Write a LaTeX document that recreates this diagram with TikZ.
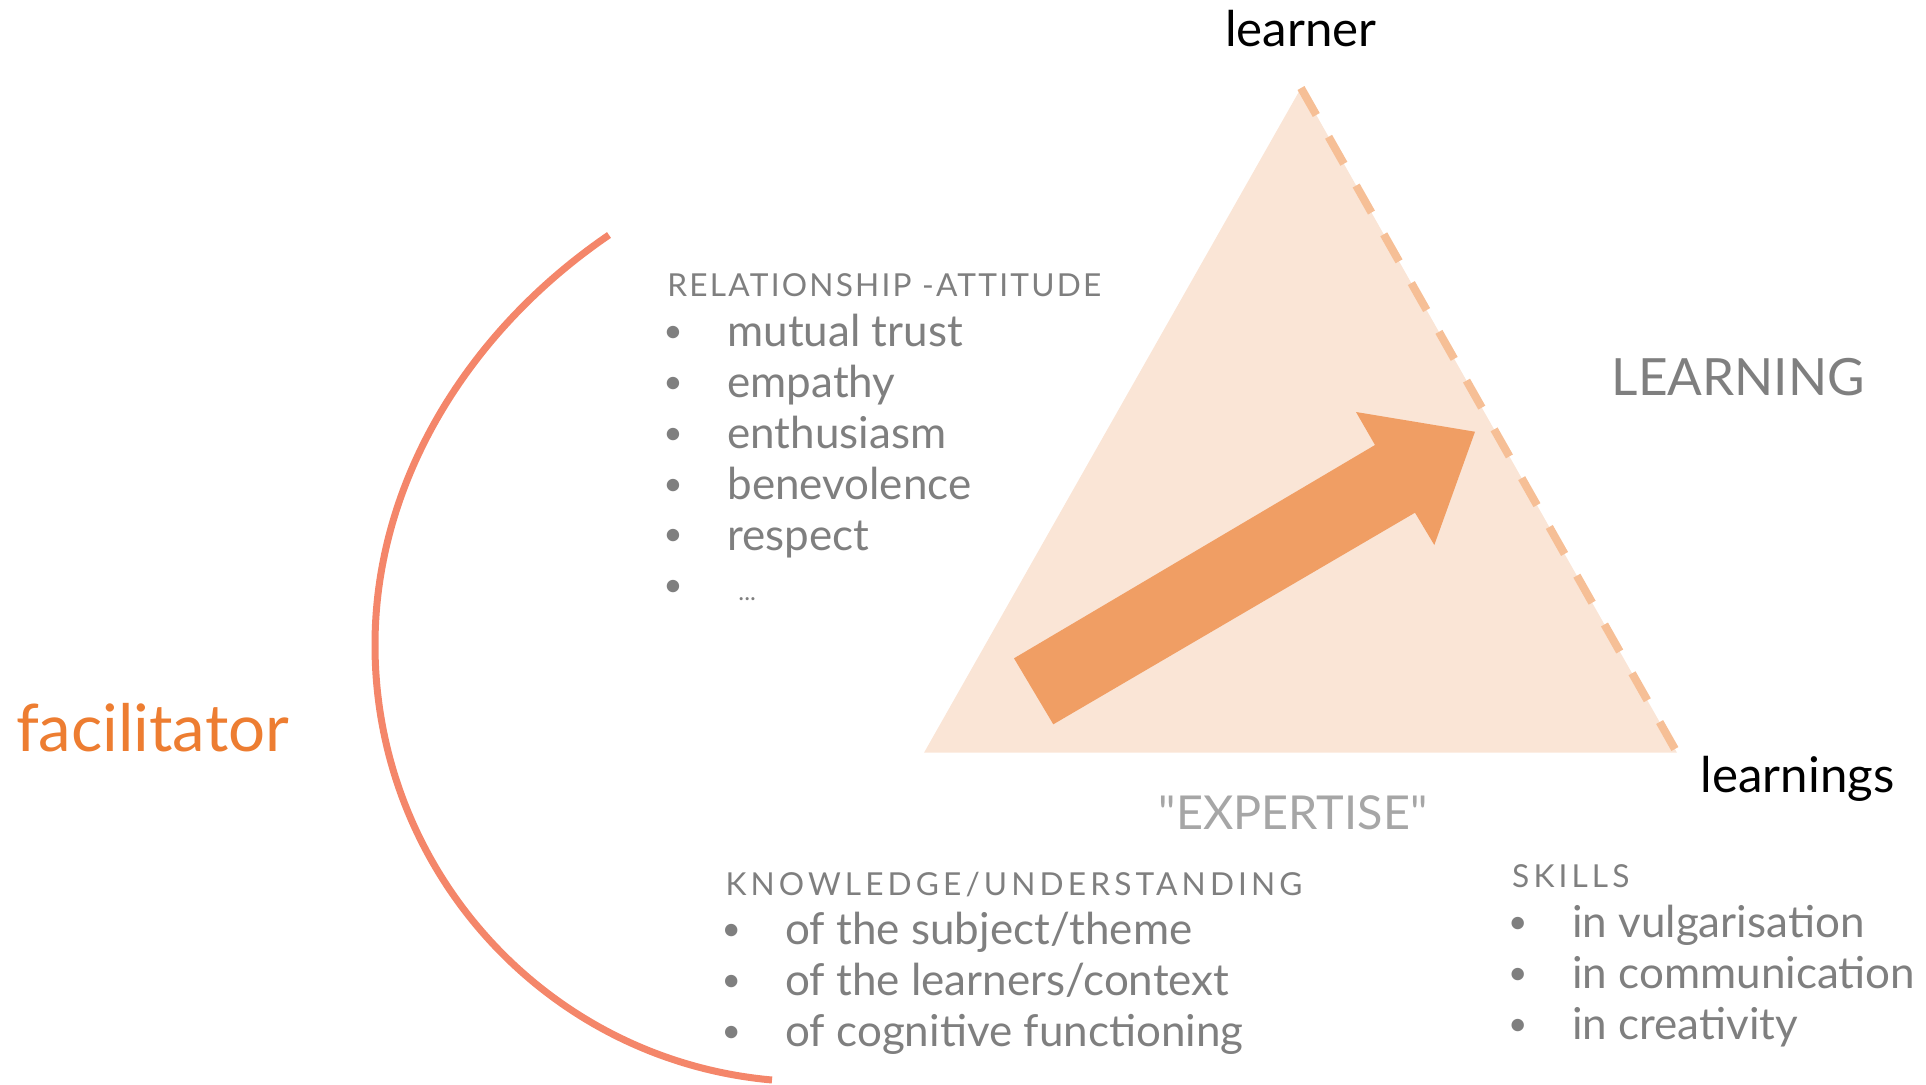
\documentclass[tikz,border=0pt]{standalone}
\usepackage{fontspec}
\setmainfont{Lato}
\usetikzlibrary{positioning}
\definecolor{txtgray}{HTML}{7F7F7F}
\definecolor{softgray}{HTML}{A6A6A6}
\definecolor{facorange}{HTML}{ED7D31}
\definecolor{arcsalmon}{HTML}{F4866A}
\definecolor{trifill}{HTML}{FAE5D6}
\definecolor{dashorange}{HTML}{F6BF96}
\definecolor{arrowfill}{HTML}{F09E64}
\tikzstyle{heading} = [inner sep=0pt, anchor=base west, text=txtgray,
                       font=\fontsize{9}{9}\selectfont\addfontfeature{LetterSpace=13}]
\tikzstyle{item} = [inner sep=0pt, text=txtgray,
                    font=\fontsize{12.5}{12.5}\selectfont]
\tikzstyle{corner} = [inner sep=0pt, font=\fontsize{14}{14}\selectfont]
\tikzstyle{title} = [inner sep=0pt, font=\fontsize{14.6}{14.6}\selectfont]
\tikzstyle{edge} = [draw=dashorange, line width=0.08cm,
                    dash pattern=on 0.31cm off 0.25cm]
\tikzstyle{bow} = [draw=arcsalmon, line width=0.07cm]
\newcommand{\itembul}{\makebox[6mm][l]{\kern-0.4mm\raisebox{1.2pt}{\fontsize{9.5}{9.5}\selectfont\textbullet}}}

\begin{document}
\begin{tikzpicture}[x=0.01cm, y=-0.01cm, node distance=0.508cm]
  \useasboundingbox (0,0) rectangle (1926,1084);

  % Triangle
  \coordinate (apex) at (1301,88);
  \coordinate (left) at (924,752.7);
  \coordinate (right) at (1677,752.7);
  \fill [trifill] (apex) -- (left) -- (right) -- cycle;
  \path [edge] (apex) -- (right);

  % Big arrow
  \fill [arrowfill] (1014,658.3) -- (1375,445) -- (1356,412) -- (1475,431.7)
    -- (1434.3,545) -- (1415,512.7) -- (1053.3,724.3) -- cycle;

  % Facilitator arc
  \coordinate (arctop) at (609,235);
  \coordinate (arcleft) at (375,645);
  \coordinate (arcend) at (772,1080);
  \path [bow] (arctop) .. controls (471.4,328.8) and (375,478.4) .. (arcleft)
    .. controls (375,871) and (547,1060) .. (arcend);

  % Labels
  \node [corner, above=0.413cm of apex, anchor=base] (learner) {learner};
  \node [corner, below right=0.40cm and 0.23cm of right, anchor=base west] (learnings) {learnings};
  \node [title, text=txtgray, anchor=base west] (learning) at (1611,395.8) {LEARNING};
  \node [title, text=softgray, anchor=base, font=\fontsize{13.3}{13.3}\selectfont] (expertise) at (1293,829.6) {\textquotedbl EXPERTISE\textquotedbl};
  \node [title, text=facorange, anchor=base west, font=\fontsize{18.6}{18.6}\selectfont] (facilitator) at (15.4,751) {facilitator};

  % Relationship - attitude
  \node [heading, font=\fontsize{9}{9}\selectfont\addfontfeature{LetterSpace=7}] (rel) at (666.7,296) {RELATIONSHIP -ATTITUDE};
  \node [item, below=of rel.base west, anchor=base west] (rel1) {\itembul mutual trust};
  \node [item, below=of rel1.base west, anchor=base west] (rel2) {\itembul empathy};
  \node [item, below=of rel2.base west, anchor=base west] (rel3) {\itembul enthusiasm};
  \node [item, below=of rel3.base west, anchor=base west] (rel4) {\itembul benevolence};
  \node [item, below=of rel4.base west, anchor=base west] (rel5) {\itembul respect};
  \node [item, below=of rel5.base west, anchor=base west] (rel6) {\itembul\hspace{1.1mm}{\fontsize{7}{7}\selectfont...}};

  % Knowledge - understanding
  \node [heading] (know) at (724.8,895) {KNOWLEDGE/UNDERSTANDING};
  \node [item, below=0.497cm of know.base west, anchor=base west] (know1) {\itembul of the subject/theme};
  \node [item, below=of know1.base west, anchor=base west] (know2) {\itembul of the learners/context};
  \node [item, below=of know2.base west, anchor=base west] (know3) {\itembul of cognitive functioning};

  % Skills
  \node [heading] (skills) at (1511.5,887.7) {SKILLS};
  \node [item, below=0.501cm of skills.base west, anchor=base west] (skill1) {\itembul in vulgarisation};
  \node [item, below=of skill1.base west, anchor=base west] (skill2) {\itembul in communication};
  \node [item, below=of skill2.base west, anchor=base west] (skill3) {\itembul in creativity};
\end{tikzpicture}
\end{document}
